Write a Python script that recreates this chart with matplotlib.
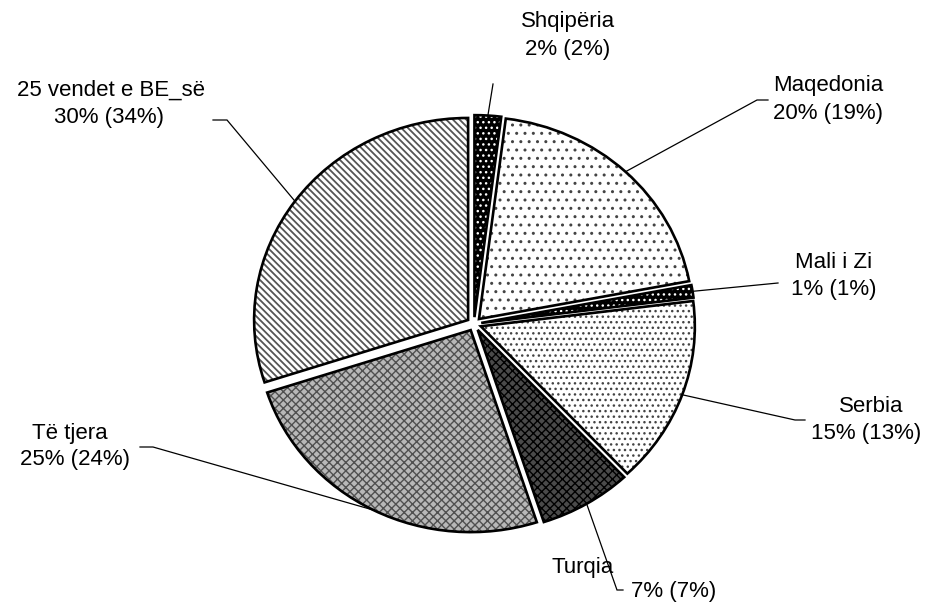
import matplotlib
matplotlib.use('Agg')
import matplotlib.pyplot as plt
from matplotlib.patches import Wedge
import numpy as np

plt.rcParams['font.family'] = ['Liberation Sans', 'DejaVu Sans']
plt.rcParams['hatch.linewidth'] = 1.0

categories = ['Shqipëria', 'Maqedonia', 'Mali i Zi', 'Serbia', 'Turqia', 'Të tjera', '25 vendet e BE_së']
shares = [2, 20, 1, 15, 7, 25, 30]
prev_shares = [2, 19, 1, 13, 7, 24, 34]

# styling (face colour, hatch, hatch colour, hatch linewidth)
faces = ['black', 'white', 'black', 'white', '#4a4a4a', '#b8b8b8', 'white']
hatches = ['...', '..', '...', '...', 'xxxx', 'xxxx', '\\\\\\\\\\']
hatch_cols = ['white', '#444444', 'white', '#444444', 'black', '#505050', '#555555']
hatch_lws = [1.0, 1.0, 1.0, 1.0, 1.0, 1.0, 1.3]

W, H = 933, 605
CX, CY = 474, 324
RX, RY = 214, 202
EXP = 0.034

def px2d(px, py):
    return (px - CX) / RX, (CY - py) / RY

fig = plt.figure(figsize=(W / 100, H / 100), dpi=100)
ax = fig.add_axes([0, 0, 1, 1])
wedges, _ = ax.pie(shares, startangle=90, counterclock=False, explode=[EXP] * len(shares),
                   radius=1, wedgeprops=dict(linewidth=0))
ax.set_aspect('auto')
ax.set_xlim(-CX / RX, (W - CX) / RX)
ax.set_ylim(-(H - CY) / RY, CY / RY)
ax.axis('off')

for w, fc, h, hc, hl in zip(wedges, faces, hatches, hatch_cols, hatch_lws):
    w.set_facecolor(fc)
    w.set_zorder(1)
    plt.rcParams['hatch.linewidth'] = hl
    hw = Wedge(w.center, w.r, w.theta1, w.theta2, facecolor='none', edgecolor=hc,
               hatch=h, linewidth=0, zorder=2)
    ax.add_patch(hw)
    ow = Wedge(w.center, w.r, w.theta1, w.theta2, fill=False, edgecolor='black',
               linewidth=1.9, zorder=3)
    ax.add_patch(ow)

# label layout (pixel positions): line1 center, line2 center, leader path points
label_layout = [
    dict(l1=(568, 22), l2=(568, 50), path=[(493, 84)]),
    dict(l1=(828, 85), l2=(828, 113), path=[(768, 100), (757, 100)]),
    dict(l1=(834, 262), l2=(834, 290), path=[(778, 283)]),
    dict(l1=(871, 406), l2=(866, 433), path=[(805, 420), (795, 420)]),
    dict(l1=(583, 568), l2=(674, 592), path=[(623, 590), (617, 590)]),
    dict(l1=(70, 433), l2=(75, 460), path=[(140, 447), (153, 447)]),
    dict(l1=(111, 90), l2=(109, 117), path=[(213, 120), (227, 120)]),
]

for w, name, v, pv, lay in zip(wedges, categories, shares, prev_shares, label_layout):
    mid = np.deg2rad((w.theta1 + w.theta2) / 2)
    cx, cy = w.center
    sx, sy = cx + np.cos(mid), cy + np.sin(mid)
    pts = [px2d(*p) for p in lay['path']] + [(sx, sy)]
    xs, ys = zip(*pts)
    ax.plot(xs, ys, color='black', linewidth=0.9, zorder=4, solid_joinstyle='miter')
    ax.text(*px2d(*lay['l1']), name, ha='center', va='center', fontsize=16, zorder=5)
    ax.text(*px2d(*lay['l2']), f'{v}% ({pv}%)', ha='center', va='center', fontsize=16, zorder=5)

fig.savefig('out.png', dpi=100)
